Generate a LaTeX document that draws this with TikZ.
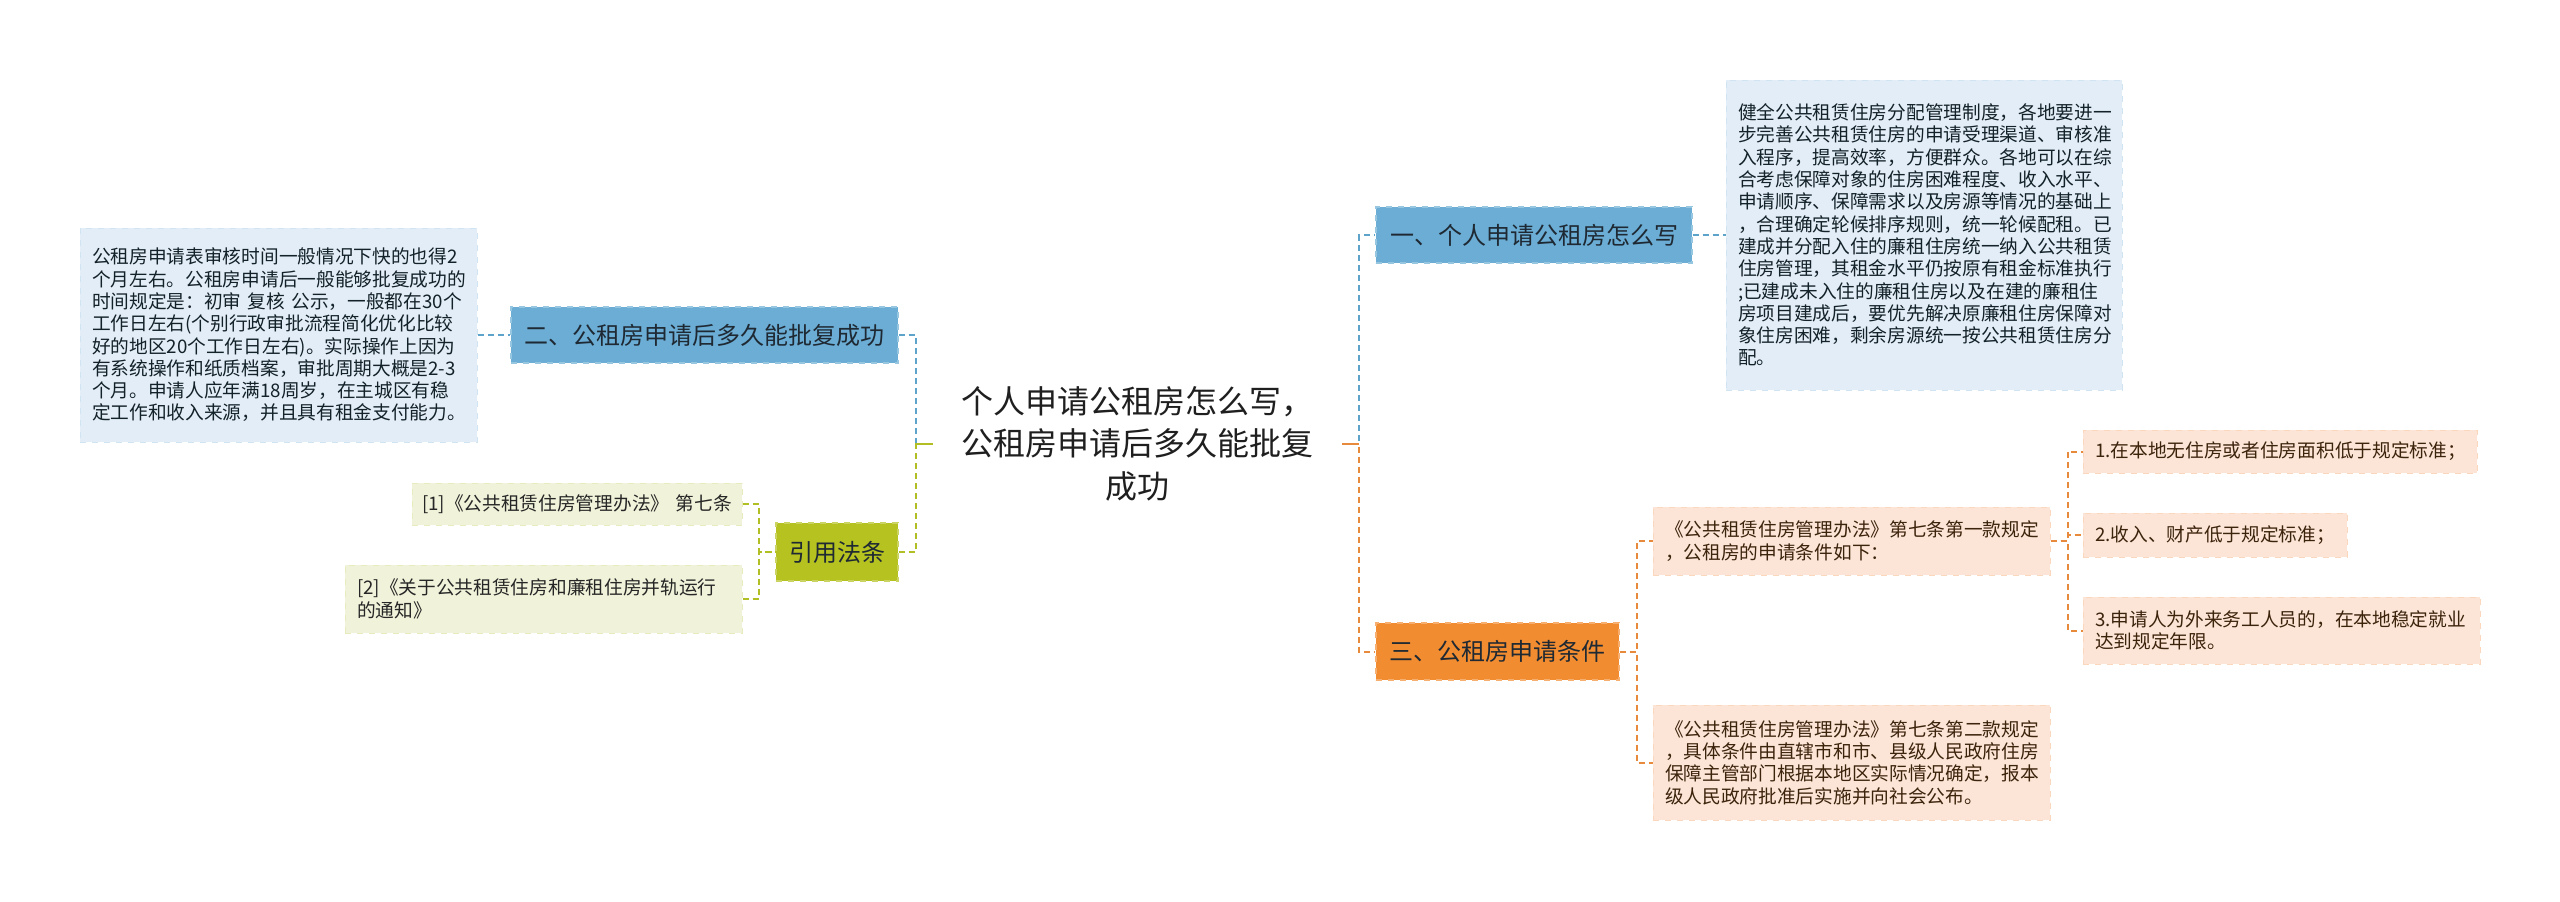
\documentclass[tikz,border=0pt]{standalone}
\usepackage{fontspec}
\setmainfont{Noto Sans CJK SC}
\usetikzlibrary{calc,backgrounds}
\definecolor{RootClr}{rgb}{0.93,0.93,0.90}
\definecolor{BlueClr}{rgb}{0.42,0.68,0.83}
\definecolor{BlueLeafClr}{rgb}{0.89,0.93,0.97}
\definecolor{BlueLineClr}{rgb}{0.37,0.64,0.79}
\definecolor{GreenClr}{rgb}{0.71,0.76,0.12}
\definecolor{GreenLeafClr}{rgb}{0.94,0.95,0.85}
\definecolor{GreenLineClr}{rgb}{0.70,0.75,0.14}
\definecolor{OrangeClr}{rgb}{0.95,0.55,0.19}
\definecolor{OrangeLeafClr}{rgb}{0.99,0.90,0.84}
\definecolor{OrangeLineClr}{rgb}{0.91,0.54,0.23}
\definecolor{TextClr}{rgb}{0.12,0.16,0.20}

\begin{document}
\begin{tikzpicture}[x=0.5pt,y=-0.5pt,
  mainbox/.style={rectangle,dashed,line width=0.6pt,minimum height=28pt,
    inner sep=0pt,text=TextClr,font=\fontsize{12}{14}\selectfont},
  leafbox/.style={rectangle,dashed,line width=0.5pt,inner xsep=6pt,inner ysep=3pt,
    align=left,font=\fontsize{9.35}{11.15}\selectfont},
  blueleaf/.style={leafbox,fill=BlueLeafClr,draw=BlueLeafClr!85!BlueClr,text=BlueLineClr!20!black},
  greenleaf/.style={leafbox,fill=GreenLeafClr,draw=GreenLeafClr!85!GreenClr,text=black!85},
  orangeleaf/.style={leafbox,fill=OrangeLeafClr,draw=OrangeLeafClr!85!OrangeClr,text=OrangeClr!25!black},
  bluelink/.style={draw=BlueLineClr,line width=1pt,dash pattern=on 3pt off 2pt},
  greenlink/.style={draw=GreenLineClr,line width=1pt,dash pattern=on 3pt off 2pt},
  orangelink/.style={draw=OrangeLineClr,line width=1pt,dash pattern=on 3pt off 2pt}]

\path[fill=white] (0,0) rectangle (2560,901);

\node[align=center,minimum width=204.5pt,minimum height=81.5pt,text width=190pt,
  text=black!88,font=\fontsize{16}{21.25}\selectfont] (root) at (1137.5,443.5)
  {个人申请公租房怎么写，\\公租房申请后多久能批复\\成功};
\begin{scope}[on background layer]
\fill[RootClr] ($(root.north west)+(12,0)$) -- ($(root.north east)+(-12,0)$) -- (root.east)
  -- ($(root.south east)+(-12,0)$) -- ($(root.south west)+(12,0)$) -- (root.west) -- cycle;
\end{scope}

% left side
\node[mainbox,fill=BlueClr,draw=BlueClr!70!white,minimum width=193.5pt] (n2) at (704.5,335)
  {二、公租房申请后多久能批复成功};
\node[blueleaf,text width=186.5pt,minimum height=107pt] (leaf2) at (278.5,335)
  {公租房申请表审核时间一般情况下快的也得2\\
   个月左右。公租房申请后一般能够批复成功的\\
   时间规定是：初审 复核 公示，一般都在30个\\
   工作日左右(个别行政审批流程简化优化比较\\
   好的地区20个工作日左右)。实际操作上因为\\
   有系统操作和纸质档案，审批周期大概是2-3\\
   个月。申请人应年满18周岁，在主城区有稳\\
   定工作和收入来源，并且具有租金支付能力。};
\node[mainbox,fill=GreenClr,draw=GreenClr!70!white,minimum width=61pt,minimum height=29pt] (cite) at (837,552)
  {引用法条};
\node[greenleaf,inner xsep=5pt,text width=155pt,minimum height=21pt] (ref1) at (577,504)
  {\mbox{[1]《公共租赁住房管理办法》 第七条}};
\node[greenleaf,text width=186.5pt,minimum height=34pt] (ref2) at (543.5,599)
  {[2]《关于公共租赁住房和廉租住房并轨运行\\的通知》};

% right side
\node[mainbox,fill=BlueClr,draw=BlueClr!70!white,minimum width=158pt] (n1) at (1534,235)
  {一、个人申请公租房怎么写};
\node[blueleaf,text width=186pt,minimum height=155pt] (leaf1) at (1924,235)
  {健全公共租赁住房分配管理制度，各地要进一\\
   步完善公共租赁住房的申请受理渠道、审核准\\
   入程序，提高效率，方便群众。各地可以在综\\
   合考虑保障对象的住房困难程度、收入水平、\\
   申请顺序、保障需求以及房源等情况的基础上\\
   ，合理确定轮候排序规则，统一轮候配租。已\\
   建成并分配入住的廉租住房统一纳入公共租赁\\
   住房管理，其租金水平仍按原有租金标准执行\\
   ;已建成未入住的廉租住房以及在建的廉租住\\
   房项目建成后，要优先解决原廉租住房保障对\\
   象住房困难，剩余房源统一按公共租赁住房分\\
   配。};
\node[mainbox,fill=OrangeClr,draw=OrangeClr!70!white,minimum width=121.5pt,minimum height=28.5pt] (n3) at (1497.5,651.5)
  {三、公租房申请条件};
\node[orangeleaf,text width=186.5pt,minimum height=34pt] (law1) at (1851.5,541)
  {《公共租赁住房管理办法》第七条第一款规定\\，公租房的申请条件如下：};
\node[orangeleaf,text width=186.5pt,minimum height=57.5pt] (law2) at (1851.5,762.5)
  {《公共租赁住房管理办法》第七条第二款规定\\
   ，具体条件由直辖市和市、县级人民政府住房\\
   保障主管部门根据本地区实际情况确定，报本\\
   级人民政府批准后实施并向社会公布。};
\node[orangeleaf,text width=185pt,minimum height=21.5pt] (c1) at (2280,451.5)
  {1.在本地无住房或者住房面积低于规定标准；};
\node[orangeleaf,text width=120pt,minimum height=22pt] (c2) at (2215,535)
  {2.收入、财产低于规定标准；};
\node[orangeleaf,text width=186.5pt,minimum height=33.5pt] (c3) at (2281.5,630.5)
  {3.申请人为外来务工人员的，在本地稳定就业\\达到规定年限。};

% connectors
\draw[bluelink] (n2.east) -- ++(17,0) |- (root.west);
\draw[greenlink] (cite.east) -- ++(17,0) |- (root.west);
\draw[greenlink,solid] (root.west) -- ++(-18,0);
\draw[bluelink] (leaf2.east) -- (n2.west);
\draw[greenlink] (ref1.east) -- ++(16,0) |- (cite.west);
\draw[greenlink] (ref2.east) -- ++(16,0) |- (cite.west);

\draw[bluelink] (root.east) -- ++(17,0) |- (n1.west);
\draw[orangelink] (root.east) -- ++(17,0) |- (n3.west);
\draw[orangelink,solid] (root.east) -- ++(17,0);
\draw[bluelink] (n1.east) -- (leaf1.west);
\draw[orangelink] (n3.east) -- ++(17,0) |- (law1.west);
\draw[orangelink] (n3.east) -- ++(17,0) |- (law2.west);
\draw[orangelink] (law1.east) -- ++(17,0) |- (c1.west);
\draw[orangelink] (law1.east) -- ++(17,0) |- (c2.west);
\draw[orangelink] (law1.east) -- ++(17,0) |- (c3.west);

\end{tikzpicture}
\end{document}
